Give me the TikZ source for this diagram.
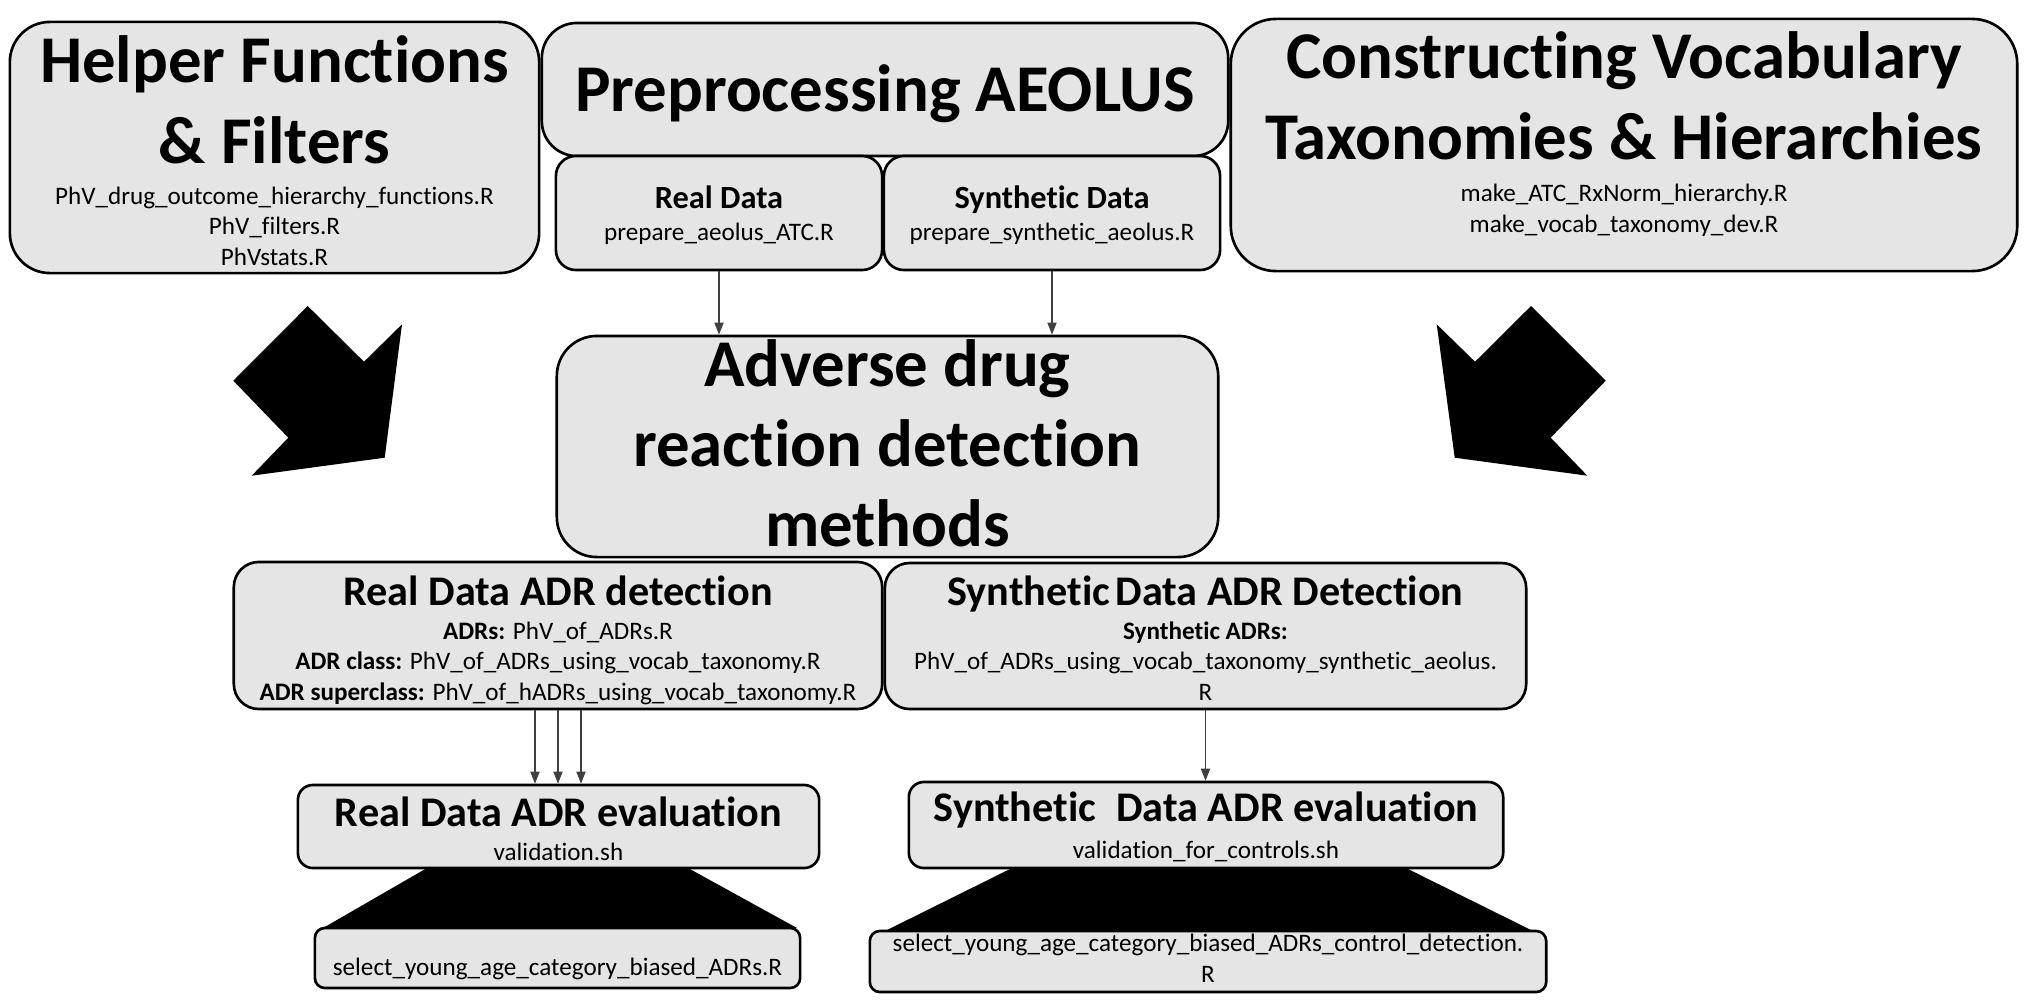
\documentclass[tikz,border=0pt]{standalone}
\usepackage{fontspec}
\setmainfont{Carlito}[Ligatures={NoCommon}]
\usetikzlibrary{arrows.meta}

\tikzset{
  box/.style={draw=black, line width=0.75pt, fill=black!10, inner sep=0pt},
  bigtitle/.style={font=\bfseries\fontsize{19}{22.8}\selectfont, align=center, anchor=base, inner sep=0pt},
  rowtitle/.style={font=\bfseries\fontsize{12}{14}\selectfont, anchor=base, inner sep=0pt},
  subtitle/.style={font=\bfseries\fontsize{9.2}{11}\selectfont, anchor=base, inner sep=0pt},
  files/.style={font=\fontsize{7.15}{8.6}\selectfont, align=center, anchor=base, inner sep=0pt},
  conn/.style={-{Triangle[length=3.4pt,width=2.6pt]}, draw=black!75, line width=0.35pt},
}

\begin{document}
\begin{tikzpicture}[x=0.01cm, y=-0.01cm]
	\useasboundingbox (0,0) rectangle (2037,1006);

	% Blockpfeile links und rechts
	\fill (307.7,306) -- (364,361.7) -- (402,324.3) -- (384.7,457.7) -- (251.7,475.7) -- (288.3,437.7) -- (233.3,380.7) -- cycle;
	\fill (1531,306) -- (1605.7,380.7) -- (1550.7,437.7) -- (1587.3,475.7) -- (1454.7,457.7) -- (1436.7,324.3) -- (1475,361.7) -- cycle;

	% Trapeze unter den Evaluationen
	\fill (427,868) -- (688,868) -- (797,928) -- (323,928) -- cycle;
	\fill (1012,868) -- (1406,868) -- (1533,931) -- (885,931) -- cycle;

	% obere Reihe (base = Grundlinie der letzten Zeile)
	\node[box, rounded corners=0.4cm, minimum width=5.29cm, minimum height=2.51cm] (helper) at (274.5,147.5) {};
	\node[bigtitle] (helperT) at (274.5,163) {Helper Functions\\\& Filters};
	\node[files] (helperF) at (274.5,265) {PhV\_drug\_outcome\_hierarchy\_functions.R\\PhV\_filters.R\\PhVstats.R};

	\node[box, rounded corners=0.35cm, minimum width=6.86cm, minimum height=1.33cm] (prep) at (885,89.5) {};
	\node[bigtitle] (prepT) at (885,111.7) {Preprocessing AEOLUS};

	\node[box, rounded corners=0.2cm, minimum width=3.26cm, minimum height=1.14cm] (realprep) at (719,213) {};
	\node[subtitle] (realprepT) at (719,208) {Real Data};
	\node[files] (realprepF) at (719,240.7) {prepare\_aeolus\_ATC.R};

	\node[box, rounded corners=0.2cm, minimum width=3.36cm, minimum height=1.14cm] (synprep) at (1052,213) {};
	\node[subtitle] (synprepT) at (1052,208) {Synthetic Data};
	\node[files] (synprepF) at (1052,240.7) {prepare\_synthetic\_aeolus.R};

	\node[box, rounded corners=0.45cm, minimum width=7.86cm, minimum height=2.52cm] (vocab) at (1624,145) {};
	\node[bigtitle] (vocabT) at (1624,159) {Constructing Vocabulary\\Taxonomies \& Hierarchies};
	\node[files] (vocabF) at (1624,232) {make\_ATC\_RxNorm\_hierarchy.R\\make\_vocab\_taxonomy\_dev.R};

	% Mitte
	\node[box, rounded corners=0.4cm, minimum width=6.61cm, minimum height=2.21cm] (adr) at (887.5,446.5) {};
	\node[bigtitle] (adrT) at (887.5,546.7) {Adverse drug\\reaction detection\\methods};

	% Detektion
	\node[box, rounded corners=0.25cm, minimum width=6.48cm, minimum height=1.47cm] (realdet) at (558,635.5) {};
	\node[rowtitle] (realdetT) at (558,605) {Real Data ADR detection};
	\node[files] (realdetF) at (558,700) {\textbf{ADRs:} PhV\_of\_ADRs.R\\\textbf{ADR class:} PhV\_of\_ADRs\_using\_vocab\_taxonomy.R\\\textbf{ADR superclass:} PhV\_of\_hADRs\_using\_vocab\_taxonomy.R};

	\node[box, rounded corners=0.25cm, minimum width=6.41cm, minimum height=1.46cm] (syndet) at (1205.5,636) {};
	\node[rowtitle] (syndetT) at (1205.5,605) {Synthetic\hspace{-0.1em} Data ADR Detection};
	\node[files] (syndetF) at (1205.5,700) {\textbf{Synthetic ADRs:}\\PhV\_of\_ADRs\_using\_vocab\_taxonomy\_synthetic\_aeolus.\\R};

	% Evaluation
	\node[box, rounded corners=0.15cm, minimum width=5.21cm, minimum height=0.83cm] (realeval) at (558.5,826.5) {};
	\node[rowtitle] (realevalT) at (558.5,826) {Real Data ADR evaluation};
	\node[files] (realevalF) at (558.5,860) {validation.sh};

	\node[box, rounded corners=0.15cm, minimum width=5.94cm, minimum height=0.86cm] (syneval) at (1206,825) {};
	\node[rowtitle] (synevalT) at (1206,821.7) {Synthetic\hspace{0.25em} Data ADR evaluation};
	\node[files] (synevalF) at (1206,858) {validation\_for\_controls.sh};

	% Auswahl
	\node[box, rounded corners=0.1cm, minimum width=4.85cm, minimum height=0.6cm] (realsel) at (557.5,958) {};
	\node[files] (realselF) at (557.5,975) {select\_young\_age\_category\_biased\_ADRs.R};

	\node[box, rounded corners=0.1cm, minimum width=6.76cm, minimum height=0.61cm] (synsel) at (1208,961.5) {};
	\node[files] (synselF) at (1208,982) {select\_young\_age\_category\_biased\_ADRs\_control\_detection.\\R};

	% Verbindungen
	\draw[conn] (realprep.south) -- (realprep.south |- adr.north);
	\draw[conn] (synprep.south) -- (synprep.south |- adr.north);
	\foreach \dx in {-23,0,23}
		\draw[conn] ([xshift=\dx*0.01cm]realdet.south) -- ([xshift=\dx*0.01cm]realdet.south |- realeval.north);
	\draw[conn] (syndet.south) -- (syndet.south |- syneval.north);
\end{tikzpicture}
\end{document}
